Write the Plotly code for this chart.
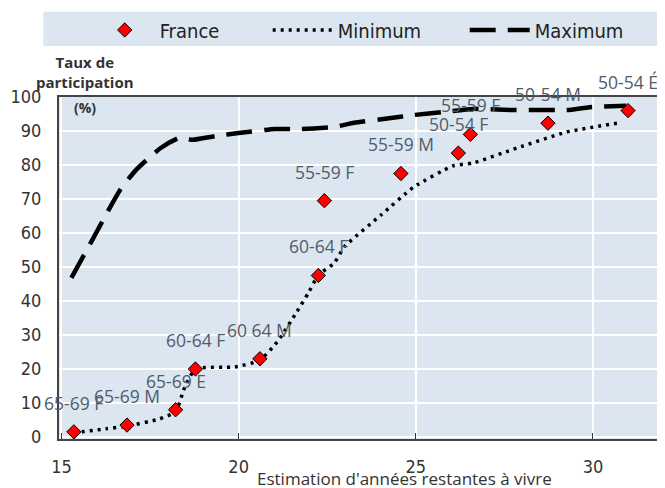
import plotly.graph_objects as go

# France points: remaining life expectancy (years) vs participation rate (%)
france_x = [15.35, 16.85, 18.22, 18.78, 20.6, 22.25, 22.42, 24.58, 26.2, 26.54, 28.73, 30.99]
france_y = [1.5, 3.5, 8.0, 20.0, 23.0, 47.5, 69.5, 77.5, 83.5, 89.0, 92.3, 96.0]
france_lbl = ["65-69 F", "65-69 M", "65-69 E", "60-64 F", "60 64 M", "60-64 F",
              "55-59 F", "55-59 M", "50-54 F", "55-59 F", "50-54 M", "50-54 É"]

min_x = [15.34, 16.26, 16.85, 17.77, 18.22, 18.47, 18.78, 19.9, 20.6, 21.13, 21.64,
         21.97, 22.25, 22.7, 22.98, 24.02, 24.94, 26.04, 26.62, 27.86, 29.26, 30.74]
min_y = [1.2, 2.4, 3.2, 5.3, 7.4, 14.4, 20.0, 20.6, 22.6, 28.5, 36.8,
         42.4, 47.6, 51.2, 55.9, 65.3, 73.5, 79.7, 80.6, 85.0, 89.7, 92.4]

max_x = [15.28, 15.84, 16.65, 17.1, 17.8, 18.33, 18.7, 19.34, 20.0, 21.02, 21.78,
         22.7, 23.26, 24.3, 24.94, 25.78, 26.62, 27.66, 28.3, 29.34, 29.9, 30.94]
max_y = [46.8, 57.4, 72.6, 78.5, 85.0, 88.0, 87.4, 88.5, 89.4, 90.6, 90.6,
         91.2, 92.4, 93.8, 94.7, 95.6, 96.5, 96.2, 96.2, 96.2, 97.0, 97.4]

x_ticks = [15, 20, 25, 30]
y_ticks = [0, 10, 20, 30, 40, 50, 60, 70, 80, 90, 100]

narrow = "Liberation Sans Narrow, Arial Narrow, DejaVu Sans Condensed, sans-serif"
lbl_font = "Open Sans, Lato, sans-serif"

fig = go.Figure()
fig.add_trace(go.Scatter(x=min_x, y=min_y, mode='lines', name='Minimum', legendrank=2, legendwidth=122,
                         line=dict(color='black', width=3.5, dash='3px,5px', shape='spline', smoothing=0.5)))
fig.add_trace(go.Scatter(x=max_x, y=max_y, mode='lines', name='Maximum', legendrank=3,
                         line=dict(color='black', width=4.5, dash='26px,12px', shape='spline', smoothing=0.5)))
fig.add_trace(go.Scatter(x=france_x, y=france_y, mode='markers', name='France', legendrank=1, legendwidth=103,
                         marker=dict(symbol='diamond', size=11, color='#ff0000',
                                     line=dict(color='black', width=1))))

for xv, yv, t in zip(france_x, france_y, france_lbl):
    fig.add_annotation(x=xv, y=yv, text=t, showarrow=False, yshift=29,
                       font=dict(family=lbl_font, size=17.5, color='#505c6a'))

fig.add_annotation(xref='paper', yref='paper', x=0.044, y=1.073, xanchor='center', yanchor='middle',
                   text='<b>Taux de<br>participation</b>', showarrow=False,
                   font=dict(family=lbl_font, size=15, color='#333333'))
fig.add_annotation(xref='paper', yref='paper', x=0.044, y=0.97, xanchor='center', yanchor='middle',
                   text='<b>(%)</b>', showarrow=False,
                   font=dict(family=lbl_font, size=14, color='#333333'))
fig.add_annotation(xref='paper', yref='paper', x=0.574, y=-0.115, xanchor='center', yanchor='middle',
                   text="Estimation d'années restantes à vivre", showarrow=False,
                   font=dict(family=lbl_font, size=17, color='#333333'))

# legend band
fig.add_shape(type='rect', xref='paper', yref='paper', x0=-0.026, x1=1.003, y0=1.149, y1=1.249,
              fillcolor='#dce6f1', line=dict(width=0), layer='below')

fig.update_layout(
    width=657, height=480,
    margin=dict(l=48, r=2, t=89, b=49),
    paper_bgcolor='white',
    plot_bgcolor='#dce6f1',
    showlegend=True,
    legend=dict(orientation='h', x=0.051, y=1.196, xanchor='left', yanchor='middle',
                bgcolor='rgba(0,0,0,0)', itemwidth=60,
                font=dict(family=narrow, size=20, color='#222222')),
    xaxis=dict(range=[14.93, 31.92], tickvals=x_ticks, showgrid=True, gridcolor='white', gridwidth=1.5,
               zeroline=False, showline=True, linecolor='#444444', linewidth=2, mirror=True,
               ticks='inside', ticklen=6, tickcolor='#333333', ticklabelstandoff=10,
               tickfont=dict(family=narrow, size=18, color='#333333')),
    yaxis=dict(range=[-0.6, 100], tickvals=y_ticks, showgrid=True, gridcolor='white', gridwidth=2,
               zeroline=False, showline=True, linecolor='#444444', linewidth=2, mirror=True,
               ticks='', ticklabelstandoff=12,
               tickfont=dict(family=narrow, size=18, color='#333333')),
)

fig.write_html("out.html")
